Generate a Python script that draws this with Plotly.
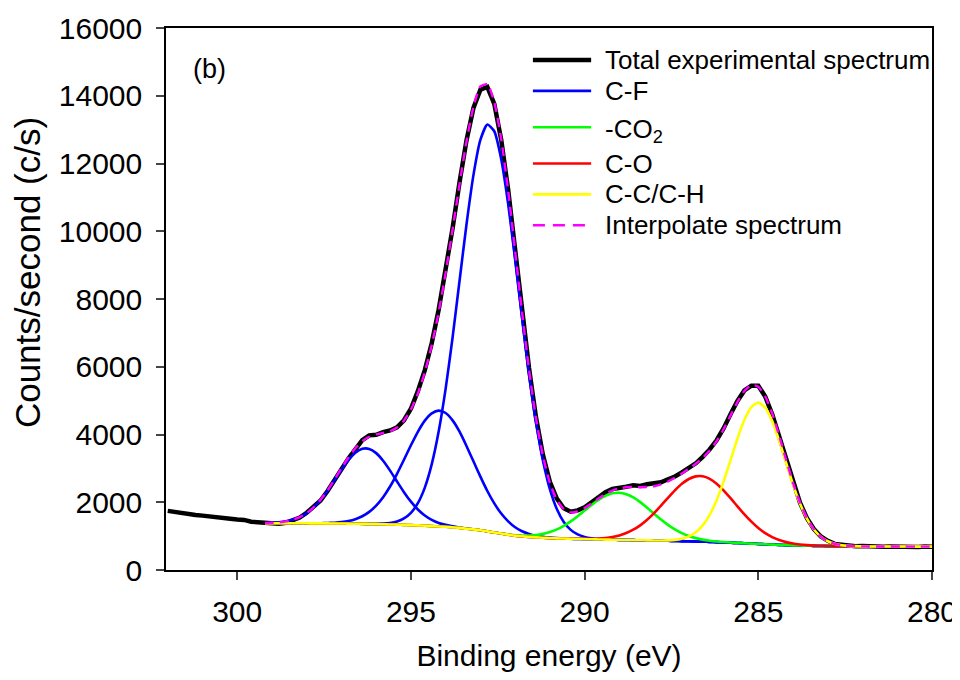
import plotly.graph_objects as go

# ---------------- data ----------------
energy_exp = [302.0, 301.8, 301.6, 301.4, 301.2, 301.0, 300.8, 300.6, 300.4, 300.2,
              300.0, 299.8, 299.6, 299.4,
              299.2, 299.0, 298.8, 298.6, 298.4, 298.2, 298.0, 297.8, 297.6, 297.4,
              297.2, 297.0, 296.8, 296.6, 296.4, 296.2, 296.0, 295.8, 295.6, 295.4,
              295.2, 295.0, 294.8, 294.6, 294.4, 294.2, 294.0, 293.8, 293.6, 293.4,
              293.2, 293.0, 292.8, 292.6, 292.4, 292.2, 292.0, 291.8, 291.6, 291.4,
              291.2, 291.0, 290.8, 290.6, 290.4, 290.2, 290.0, 289.8, 289.6, 289.4,
              289.2, 289.0, 288.8, 288.6, 288.4, 288.2, 288.0, 287.8, 287.6, 287.4,
              287.2, 287.0, 286.8, 286.6, 286.4, 286.2, 286.0, 285.8, 285.6, 285.4,
              285.2, 285.0, 284.8, 284.6, 284.4, 284.2, 284.0, 283.8, 283.6, 283.4,
              283.2, 283.0, 282.8, 282.6, 282.4, 282.2, 282.0, 281.8, 281.6, 281.4,
              281.2, 281.0, 280.8, 280.6, 280.4, 280.2, 280.0]

counts_exp = [1745, 1712, 1668, 1650, 1622, 1605, 1590, 1548, 1556, 1512,
              1490, 1478, 1425, 1402,
              1380, 1372, 1366, 1395, 1470, 1548, 1690, 1862, 2050, 2330,
              2660, 2985, 3290, 3560, 3830, 3975, 3990, 4070, 4120, 4210,
              4420, 4760, 5280, 5900, 6700, 7690, 8810, 10090, 11450, 12680,
              13640, 14180, 14260, 13760, 12700, 11220, 9460, 7630, 5960, 4510,
              3400, 2600, 2110, 1820, 1720, 1760, 1850, 2000, 2160, 2300,
              2390, 2440, 2460, 2500, 2480, 2530, 2550, 2590, 2680, 2760,
              2880, 3010, 3150, 3340, 3560, 3830, 4180, 4600, 4990, 5300,
              5440, 5440, 5120, 4600, 3950, 3240, 2560, 1990, 1530, 1210,
              990, 860, 770, 740, 715, 700, 705, 690, 700, 688,
              695, 685, 697, 690, 680, 694, 688]

energy_fit = [299.2, 299.0, 298.8, 298.6, 298.4, 298.2, 298.0, 297.8, 297.6, 297.4,
              297.2, 297.0, 296.8, 296.6, 296.4, 296.2, 296.0, 295.8, 295.6, 295.4,
              295.2, 295.0, 294.8, 294.6, 294.4, 294.2, 294.0, 293.8, 293.6, 293.4,
              293.2, 293.0, 292.8, 292.6, 292.4, 292.2, 292.0, 291.8, 291.6, 291.4,
              291.2, 291.0, 290.8, 290.6, 290.4, 290.2, 290.0, 289.8, 289.6, 289.4,
              289.2, 289.0, 288.8, 288.6, 288.4, 288.2, 288.0, 287.8, 287.6, 287.4,
              287.2, 287.0, 286.8, 286.6, 286.4, 286.2, 286.0, 285.8, 285.6, 285.4,
              285.2, 285.0, 284.8, 284.6, 284.4, 284.2, 284.0, 283.8, 283.6, 283.4,
              283.2, 283.0, 282.8, 282.6, 282.4, 282.2, 282.0, 281.8, 281.6, 281.4,
              281.2, 281.0, 280.8, 280.6, 280.4, 280.2, 280.0]

cf1 = [1387, 1394, 1408, 1436, 1484, 1561, 1680, 1848, 2068, 2340,
       2647, 2961, 3244, 3461, 3578, 3574, 3450, 3225, 2934, 2612,
       2297, 2017, 1787, 1609, 1479, 1390, 1332, 1288, 1257, 1226,
       1202, 1175, 1141, 1107, 1075, 1045, 1015, 996, 977, 963,
       953, 942, 935, 928, 922, 917, 912, 907, 902, 898,
       894, 890, 886, 882, 878, 874, 870, 866, 862, 857,
       853, 848, 842, 836, 830, 822, 815, 806, 797, 788,
       778, 768, 759, 750, 741, 734, 727, 722, 717, 712,
       709, 706, 704, 701, 699, 698, 696, 695, 694, 694,
       693, 692, 692, 691, 691, 690, 690]

cf2 = [1380, 1380, 1379, 1379, 1379, 1378, 1379, 1379, 1381, 1386,
       1396, 1414, 1445, 1499, 1586, 1716, 1901, 2149, 2464, 2839,
       3254, 3681, 4080, 4409, 4625, 4705, 4634, 4416, 4082, 3661,
       3208, 2756, 2332, 1965, 1666, 1435, 1261, 1144, 1063, 1010,
       978, 955, 941, 931, 923, 917, 912, 907, 902, 898,
       894, 890, 886, 882, 878, 874, 870, 866, 862, 857,
       853, 848, 842, 836, 830, 822, 815, 806, 797, 788,
       778, 768, 759, 750, 741, 734, 727, 722, 717, 712,
       709, 706, 704, 701, 699, 698, 696, 695, 694, 694,
       693, 692, 692, 691, 691, 690, 690]

cf3 = [1380, 1380, 1379, 1379, 1379, 1378, 1378, 1377, 1376, 1375,
       1374, 1372, 1369, 1367, 1364, 1362, 1363, 1369, 1389, 1432,
       1521, 1687, 1973, 2433, 3125, 4093, 5354, 6869, 8539, 10200,
       11656, 12696, 13150, 12952, 12127, 10803, 9167, 7438, 5794, 4371,
       3235, 2387, 1801, 1419, 1185, 1051, 976, 936, 914, 903,
       896, 890, 886, 882, 878, 874, 870, 866, 862, 857,
       853, 848, 842, 836, 830, 822, 815, 806, 797, 788,
       778, 768, 759, 750, 741, 734, 727, 722, 717, 712,
       709, 706, 704, 701, 699, 698, 696, 695, 694, 694,
       693, 692, 692, 691, 691, 690, 690]

co2 = [1380, 1380, 1379, 1379, 1379, 1378, 1378, 1377, 1376, 1375,
       1374, 1372, 1369, 1366, 1363, 1359, 1355, 1350, 1345, 1339,
       1332, 1325, 1316, 1307, 1296, 1285, 1275, 1259, 1243, 1219,
       1199, 1175, 1141, 1108, 1078, 1052, 1028, 1020, 1019, 1033,
       1067, 1119, 1198, 1303, 1435, 1589, 1755, 1921, 2072, 2190,
       2263, 2280, 2237, 2142, 2004, 1838, 1661, 1488, 1331, 1196,
       1087, 1004, 941, 896, 865, 842, 826, 811, 800, 789,
       778, 768, 759, 750, 741, 734, 727, 722, 717, 712,
       709, 706, 704, 701, 699, 698, 696, 695, 694, 694,
       693, 692, 692, 691, 691, 690, 690]

c_o = [1380, 1380, 1379, 1379, 1379, 1378, 1378, 1377, 1376, 1375,
       1374, 1372, 1369, 1366, 1363, 1359, 1355, 1350, 1345, 1339,
       1332, 1325, 1316, 1307, 1296, 1285, 1275, 1259, 1243, 1219,
       1199, 1175, 1141, 1107, 1075, 1045, 1015, 996, 977, 963,
       953, 942, 935, 929, 924, 921, 920, 922, 929, 946,
       975, 1021, 1091, 1189, 1319, 1484, 1680, 1900, 2130, 2351,
       2544, 2687, 2764, 2766, 2692, 2547, 2351, 2121, 1877, 1641,
       1426, 1240, 1090, 973, 885, 823, 780, 753, 734, 721,
       714, 708, 705, 701, 699, 698, 696, 695, 694, 694,
       693, 692, 692, 691, 691, 690, 690]

cc_ch = [1380, 1380, 1379, 1379, 1379, 1378, 1378, 1377, 1376, 1375,
         1374, 1372, 1369, 1366, 1363, 1359, 1355, 1350, 1345, 1339,
         1332, 1325, 1316, 1307, 1296, 1285, 1275, 1259, 1243, 1219,
         1199, 1175, 1141, 1107, 1075, 1045, 1015, 996, 977, 963,
         953, 942, 935, 928, 922, 917, 912, 907, 902, 898,
         894, 890, 886, 882, 878, 875, 872, 872, 876, 889,
         923, 991, 1114, 1318, 1629, 2061, 2609, 3238, 3877, 4433,
         4811, 4940, 4792, 4395, 3821, 3166, 2521, 1961, 1516, 1194,
         981, 849, 774, 733, 713, 704, 698, 695, 694, 694,
         693, 692, 692, 691, 691, 690, 690]

fit_total = [1387, 1394, 1408, 1436, 1484, 1561, 1681, 1850, 2073, 2351,
             2669, 3003, 3320, 3594, 3802, 3934, 4004, 4043, 4097, 4205,
             4408, 4735, 5208, 5837, 6637, 7618, 8770, 10055, 11392, 12649,
             13668, 14277, 14341, 13810, 12718, 11200, 9426, 7610, 5922, 4488,
             3374, 2577, 2070, 1798, 1700, 1727, 1827, 1965, 2111, 2243,
             2346, 2411, 2442, 2449, 2445, 2449, 2473, 2528, 2613, 2722,
             2848, 2986, 3135, 3308, 3526, 3806, 4156, 4558, 4960, 5286,
             5459, 5412, 5123, 4618, 3965, 3255, 2574, 1992, 1533, 1203,
             986, 851, 774, 733, 713, 704, 698, 695, 694, 694,
             693, 692, 692, 691, 691, 690, 690]

legend_names = ["Total experimental spectrum", "C-F", "-CO<sub>2</sub>", "C-O",
                "C-C/C-H", "Interpolate spectrum"]
legend_colors = ["#000000", "#0000FF", "#00FF00", "#FF0000", "#FFFF00", "#FF00FF"]

x_ticks = [300, 295, 290, 285, 280]
y_ticks = [0, 2000, 4000, 6000, 8000, 10000, 12000, 14000, 16000]

FONT = "Liberation Sans, Arial, sans-serif"

fig = go.Figure()

fig.add_trace(go.Scatter(x=energy_exp, y=counts_exp, mode="lines",
                         line=dict(color="#000000", width=4.5),
                         name="Total experimental spectrum", showlegend=False))

for yvals, col in [(cf1, "#0000FF"), (cf2, "#0000FF"), (cf3, "#0000FF"),
                   (co2, "#00FF00"), (c_o, "#FF0000"), (cc_ch, "#FFFF00")]:
    fig.add_trace(go.Scatter(x=energy_fit, y=yvals, mode="lines",
                             line=dict(color=col, width=2.6, shape="spline", smoothing=0.6),
                             showlegend=False))

fig.add_trace(go.Scatter(x=energy_fit, y=fit_total, mode="lines",
                         line=dict(color="#FF00FF", width=2.4, dash="9px,6px",
                                   shape="spline", smoothing=0.6),
                         name="Interpolate spectrum", showlegend=False))

# ---- custom legend (long line samples like the original) ----
legend_rows_y = [0.941, 0.884, 0.817, 0.750, 0.693, 0.636]
shapes = []
annotations = []
for i, (nm, col) in enumerate(zip(legend_names, legend_colors)):
    yy = legend_rows_y[i]
    shapes.append(dict(type="line", xref="paper", yref="paper",
                       x0=0.479, x1=0.555, y0=yy, y1=yy,
                       line=dict(color=col, width=4.5 if i == 0 else 2.6,
                                 dash="12px,8px" if i == 5 else "solid")))
    annotations.append(dict(xref="paper", yref="paper", x=0.571, y=yy,
                            xanchor="left", yanchor="middle", showarrow=False,
                            text=nm, yshift=-3 if i == 2 else 0,
                            font=dict(family=FONT, size=26, color="#000000")))

annotations.append(dict(xref="paper", yref="paper", x=0.033, y=0.925,
                        xanchor="left", yanchor="middle", showarrow=False,
                        text="(b)", font=dict(family=FONT, size=27, color="#000000")))

# y-axis title as rotated text (sits a little above the plot's mid-height)
annotations.append(dict(xref="paper", yref="paper", x=-0.180, y=0.548,
                        xanchor="center", yanchor="middle", showarrow=False,
                        textangle=-90, text="Counts/second (c/s)",
                        font=dict(family=FONT, size=35, color="#000000")))

# figure is sized so the page (with its 8 px body margin) fits the window;
# the plot area keeps the reference's pixel position.
fig.update_layout(
    width=952, height=664,
    margin=dict(l=158, r=28, t=20, b=102),
    paper_bgcolor="white", plot_bgcolor="white",
    font=dict(family=FONT, size=26, color="#000000"),
    showlegend=False,
    shapes=shapes,
    annotations=annotations,
    xaxis=dict(range=[302.05, 280], tickvals=x_ticks, ticks="outside", ticklen=8,
               tickwidth=1.5, showline=True, linewidth=1.5, linecolor="#000000",
               mirror=True, showgrid=False, zeroline=False, ticklabelstandoff=6,
               automargin=False,
               tickfont=dict(family=FONT, size=30),
               title=dict(text="Binding energy (eV)", font=dict(family=FONT, size=30),
                          standoff=22)),
    yaxis=dict(range=[0, 16000], tickvals=y_ticks, tickformat="d", ticks="outside",
               ticklen=8, tickwidth=1.5, showline=True, linewidth=1.5,
               linecolor="#000000", ticklabelstandoff=8, automargin=False,
               mirror=True, showgrid=False, zeroline=False,
               tickfont=dict(family=FONT, size=30)),
)

# keep the page free of scrollbars so the right-most tick label is not hidden
fig.write_html("out.html", post_script="document.body.style.overflow='hidden';")
